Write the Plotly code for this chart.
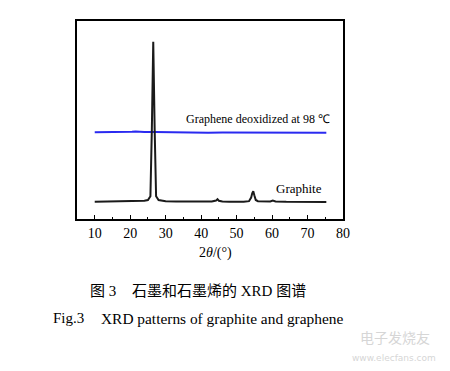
import plotly.graph_objects as go

# Graphite XRD pattern (2θ in degrees, intensity in arbitrary units)
graphite_x = [10, 13, 16, 19, 22, 24, 25, 25.7, 26.1, 26.5, 26.9, 27.3, 28, 30, 33, 36, 40, 43, 44.2, 44.6, 45.0, 46, 48, 50, 52, 53.5, 54.1, 54.4, 54.7, 55.0, 55.4, 56, 58, 59.5, 60.2, 61, 64, 67, 70, 73, 75.3]
graphite_y = [8.7, 8.8, 8.8, 8.9, 9.0, 9.2, 9.6, 11.5, 45, 89.5, 45, 11.5, 9.6, 9.0, 8.9, 8.8, 8.8, 8.9, 9.3, 10.0, 9.2, 8.8, 8.7, 8.6, 8.7, 9.0, 10.8, 13.0, 14.0, 12.0, 9.6, 9.0, 8.8, 8.9, 9.3, 8.9, 8.7, 8.6, 8.7, 8.6, 8.6]

# Graphene deoxidized at 98 °C
graphene_x = [10, 14, 17, 19, 20.5, 21.5, 22.5, 24, 27, 30, 34, 38, 42, 46, 50, 53, 56, 60, 64, 68, 72, 75.3]
graphene_y = [43.8, 43.8, 43.8, 43.9, 44.1, 44.2, 44.0, 43.9, 43.9, 43.8, 43.7, 43.6, 43.6, 43.7, 43.7, 43.7, 43.7, 43.6, 43.6, 43.6, 43.6, 43.6]

x_ticks = [10, 20, 30, 40, 50, 60, 70, 80]

serif = "Liberation Serif, Times New Roman, serif"
cjk = "Liberation Serif, Noto Sans CJK SC, serif"

fig = go.Figure()
fig.add_trace(go.Scatter(x=graphene_x, y=graphene_y, mode="lines",
                         line=dict(color="#2a2af0", width=2),
                         showlegend=False, hoverinfo="skip"))
fig.add_trace(go.Scatter(x=graphite_x, y=graphite_y, mode="lines",
                         line=dict(color="#1a1a1a", width=2),
                         showlegend=False, hoverinfo="skip"))

fig.update_layout(
    width=450, height=371,
    margin=dict(l=77, r=107, t=21, b=152),
    paper_bgcolor="white", plot_bgcolor="white",
    font=dict(family=serif, size=13, color="black"),
    xaxis=dict(range=[5, 80], tickvals=x_ticks, ticks="inside", ticklen=4,
               tickwidth=1, tickcolor="black",
               minor=dict(ticks="inside", ticklen=2, dtick=5, tick0=5, tickcolor="black"),
               showline=True, linecolor="black", linewidth=1.5, mirror=True,
               showgrid=False, zeroline=False,
               tickfont=dict(family=serif, size=14)),
    yaxis=dict(range=[0, 100], showticklabels=False, ticks="",
               showline=True, linecolor="black", linewidth=1.5, mirror=True,
               showgrid=False, zeroline=False),
)

annotations = [
    dict(text="2<i>θ</i>/(°)", x=0.52, y=-0.17, xref="paper", yref="paper",
         showarrow=False, font=dict(family=serif, size=14), xanchor="center", yanchor="middle"),
    dict(text="Graphene deoxidized at 98 ℃", x=56.0, y=50.5, xref="x", yref="y",
         showarrow=False, font=dict(family=serif, size=12), xanchor="center", yanchor="middle"),
    dict(text="Graphite", x=67.5, y=15.3, xref="x", yref="y",
         showarrow=False, font=dict(family=serif, size=13), xanchor="center", yanchor="middle"),
]
for a in annotations:
    fig.add_annotation(**a)

# Captions (paper pixel positions via paper coordinates)
def px(xp):
    return (xp - 77) / (450 - 77 - 107)

def py(yp):
    return (219 - yp) / (219 - 21)

fig.add_annotation(text="图 3", x=px(88), y=py(291), xref="paper", yref="paper",
                   showarrow=False, xanchor="left", yanchor="middle",
                   font=dict(family=cjk, size=15))
fig.add_annotation(text="石墨和石墨烯的 XRD 图谱", x=px(130), y=py(291), xref="paper", yref="paper",
                   showarrow=False, xanchor="left", yanchor="middle",
                   font=dict(family=cjk, size=15))
fig.add_annotation(text="Fig.3", x=px(51), y=py(318), xref="paper", yref="paper",
                   showarrow=False, xanchor="left", yanchor="middle",
                   font=dict(family=serif, size=15))
fig.add_annotation(text="XRD patterns of graphite and graphene", x=px(99), y=py(318), xref="paper", yref="paper",
                   showarrow=False, xanchor="left", yanchor="middle",
                   font=dict(family=serif, size=15.4))
# faint watermark
fig.add_annotation(text="电子发烧友", x=px(395), y=py(337), xref="paper", yref="paper",
                   showarrow=False, xanchor="center", yanchor="middle",
                   font=dict(family="Noto Sans CJK SC", size=14, color="#d6d6d6"))
fig.add_annotation(text="www.elecfans.com", x=px(394), y=py(358), xref="paper", yref="paper",
                   showarrow=False, xanchor="center", yanchor="middle",
                   font=dict(family="DejaVu Sans", size=9, color="#d6d6d6"))

fig.write_html("out.html")
